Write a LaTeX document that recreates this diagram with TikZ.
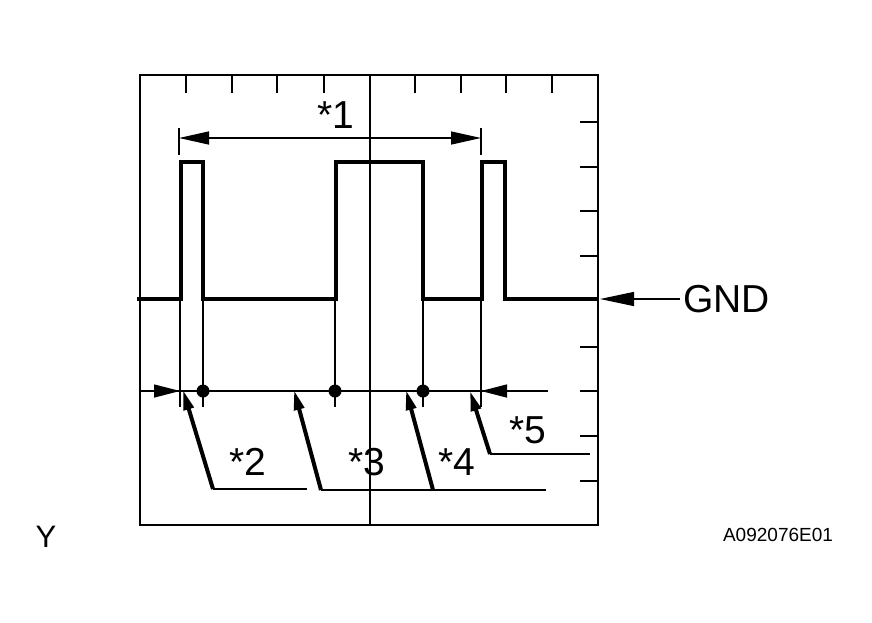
\documentclass[tikz,border=0pt]{standalone}
\usepackage{fontspec}
\setmainfont{Liberation Sans}
\usetikzlibrary{arrows.meta}
\begin{document}
\begin{tikzpicture}[x=1pt,y=-1pt,
  thin/.style={line width=1.4pt},
  sig/.style={line width=4pt,line join=miter},
  lead/.style={line width=4pt,-{Triangle[length=20pt,width=10pt]}},
  tip/.style={line width=1.4pt,-{Triangle[length=26pt,width=13pt]}},
  lbl/.style={font=\fontsize{39}{39}\selectfont,inner sep=0pt}]
\useasboundingbox (0,0) rectangle (872,622);
\draw[thin] (140,75) rectangle (598,525);
\draw[thin] (370,75) -- (370,525);
\foreach \x in {186,232,277,324,415,461,506,552} \draw[thin] (\x,75) -- (\x,93);
\foreach \y in {122,167,211,256,347,391,436,481} \draw[thin] (580,\y) -- (598,\y);
% signal
\draw[sig] (137,299) -- (181,299) -- (181,162) -- (203,162) -- (203,299) -- (336,299) -- (336,162) -- (423,162) -- (423,299) -- (482,299) -- (482,162) -- (505,162) -- (505,299) -- (598,299);
% *1
\draw[thin] (179,128) -- (179,155);
\draw[thin] (481,128) -- (481,155);
\coordinate (a1) at (179,138); \coordinate (a2) at (481,138);
\draw[thin,{Triangle[length=30pt,width=13pt]}-{Triangle[length=30pt,width=13pt]}] (a1) -- (a2);
\node[lbl] (t1) at (336,115) {*1};
% drops
\foreach \x in {180,203,335,423,481} \draw[thin] (\x,299) -- (\x,407);
\draw[thin] (140,391) -- (548,391);
\coordinate (l0) at (146,391); \coordinate (l1) at (180,391);
\coordinate (r0) at (516,391); \coordinate (r1) at (481,391);
\draw[tip] (l0) -- (l1);
\draw[tip] (r0) -- (r1);
\foreach \x in {203,335,423} \fill (\x,391) circle (6.5pt);
% leaders
\coordinate (p2) at (183,390); \coordinate (q2) at (213,489);
\coordinate (p3) at (294,390); \coordinate (q3) at (321,490);
\coordinate (p4) at (406,390); \coordinate (q4) at (433,490);
\coordinate (p5) at (470,391); \coordinate (q5) at (490,454);
\draw[lead] (q2) -- (p2); \draw[thin] (q2) -- (307,489);
\draw[lead] (q3) -- (p3); \draw[thin] (q3) -- (q4);
\draw[lead] (q4) -- (p4); \draw[thin] (q4) -- (546,490);
\draw[lead] (q5) -- (p5); \draw[thin] (q5) -- (590,454);
\node[lbl] (t2) at (248,462) {*2};
\node[lbl] (t3) at (367,462) {*3};
\node[lbl] (t4) at (457,462) {*4};
\node[lbl] (t5) at (528,430) {*5};
% GND
\coordinate (g0) at (680,299); \coordinate (g1) at (600,299);
\draw[thin,-{Triangle[length=34pt,width=14pt]}] (g0) -- (g1);
\node[lbl,anchor=west] (gnd) at (683,299) {GND};
\node[font=\fontsize{31}{31}\selectfont,inner sep=0pt] (y) at (46,537) {Y};
\node[font=\fontsize{19}{19}\selectfont,inner sep=0pt] (code) at (778,535) {A092076E01};
\end{tikzpicture}
\end{document}
